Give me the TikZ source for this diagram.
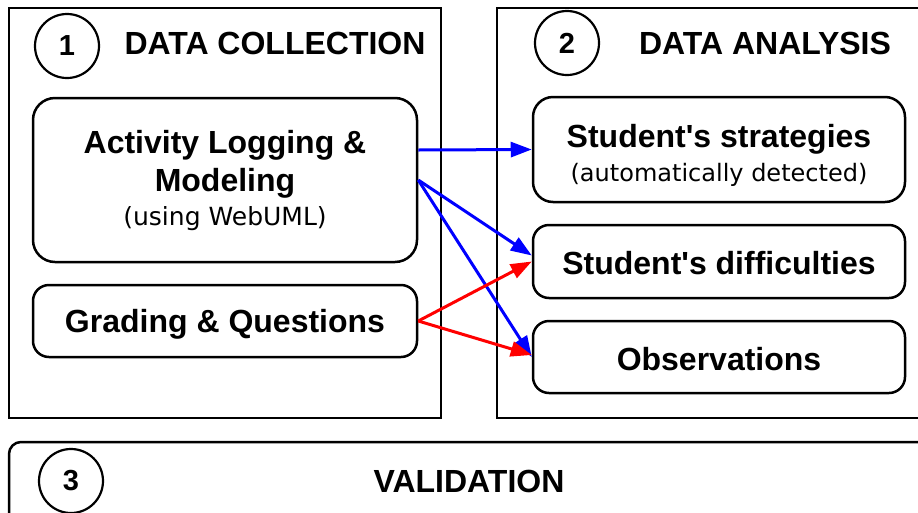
\documentclass[tikz,border=0pt]{standalone}
\usepackage{fontspec}
\setmainfont{Liberation Sans}[Ligatures=TeXOff]
\newfontfamily\dv{DejaVu Sans}[Ligatures=TeXOff]
\usetikzlibrary{arrows.meta}
\begin{document}
\begin{tikzpicture}[x=1pt,y=-1pt,
  frame/.style={draw, line width=2.5pt, inner sep=0pt},
  rbox/.style={draw, line width=2.5pt, rounded corners=16pt, inner sep=0pt},
  txt/.style={inner sep=0pt, align=center, font=\bfseries\fontsize{32}{38}\selectfont},
  num/.style={draw, circle, line width=2.2pt, minimum size=64pt, inner sep=0pt,
    font=\bfseries\fontsize{29}{34}\selectfont},
  head/.style={font=\bfseries\fontsize{32}{36}\selectfont, inner sep=0pt},
  barrow/.style={draw=blue, line width=3pt, -{Triangle[length=21pt,width=15pt]}},
  rarrow/.style={draw=red, line width=3pt, -{Triangle[length=21pt,width=15pt]}}
]
\useasboundingbox (0,0) rectangle (918,512);
\clip (0,0) rectangle (918,512);

% outer frames
\node[frame, minimum width=432pt, minimum height=410pt] (coll) at (225,213) {};
\node[frame, minimum width=443pt, minimum height=410pt] (anal) at (718.5,213) {};
\node[frame, rounded corners=12pt, minimum width=931pt, minimum height=98pt] (valid) at (474.5,491) {};

% numbers and headings
\node[num] (n1) at (67,46) {1};
\node[head] (h1) at (275,43) {DATA COLLECTION};
\node[num] (n2) at (567,43) {2};
\node[head] (h2) at (765,43) {DATA ANALYSIS};
\node[num] (n3) at (71,481) {3};
\node[head] (h3) at (469,481) {VALIDATION};

% inner boxes
\node[rbox, rounded corners=22pt, minimum width=384pt, minimum height=164pt] (act) at (225,180) {};
\node[rbox, minimum width=384pt, minimum height=72pt] (grad) at (225,321) {};
\node[rbox, rounded corners=20pt, minimum width=372pt, minimum height=105pt] (strat) at (719,149.5) {};
\node[rbox, minimum width=372pt, minimum height=73pt] (diff) at (719,261.5) {};
\node[rbox, minimum width=372pt, minimum height=72pt] (obs) at (719,357) {};

% texts
\node[txt] (actT) at (225,181)
  {Activity Logging \&\\Modeling\\[-4pt]{\dv\mdseries\fontsize{25}{29}\selectfont (using WebUML)}};
\node[txt] (gradT) at (225,324) {Grading \& Questions};
\node[txt] (stratT) at (719,155)
  {Student's strategies\\[-4pt]{\dv\mdseries\fontsize{24}{28}\selectfont (automatically detected)}};
\node[txt] (diffT) at (719,263.5) {Student's difficulties};
\node[txt] (obsT) at (719,359) {Observations};

% connectors
\draw[barrow] ([yshift=30pt]act.east) -- (strat.west);
\draw[barrow] (act.east) -- ([yshift=6pt]diff.west);
\draw[barrow] (act.east) -- (obs.west);
\draw[rarrow] (grad.east) -- (diff.west);
\draw[rarrow] (grad.east) -- ([yshift=2pt]obs.west);
\end{tikzpicture}
\end{document}
